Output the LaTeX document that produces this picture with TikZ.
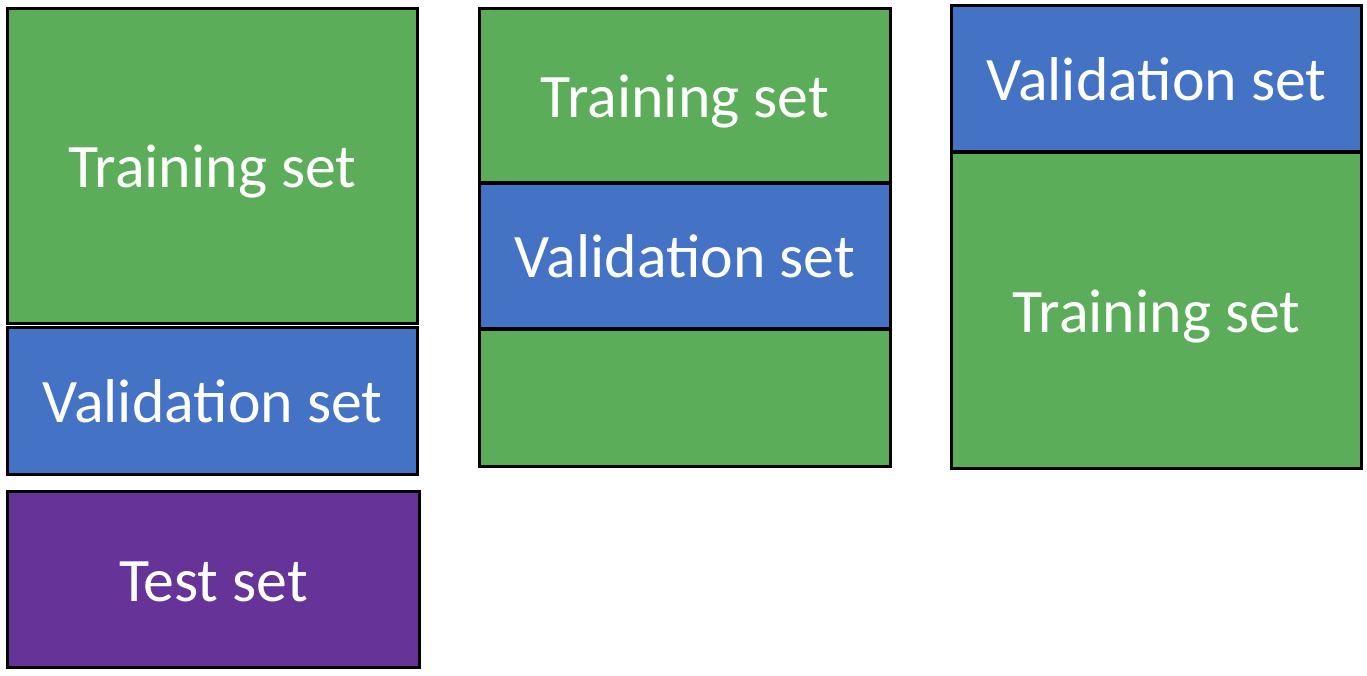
\documentclass[tikz,border=0pt]{standalone}
\usepackage{fontspec}
\setmainfont{Carlito}
\definecolor{trainGreen}{RGB}{91, 173, 90}
\definecolor{valBlue}{RGB}{68, 114, 196}
\definecolor{testPurple}{RGB}{102, 51, 153}
\usepackage{tikz}
\usetikzlibrary{positioning}

\tikzset{
  setbox/.style={draw=black,line width=1.7pt,inner sep=0pt,text=white,
    font=\fontsize{35.2}{38}\selectfont,text height=25pt,text depth=0pt,
    minimum width=8.22cm},
  trainbox/.style={setbox,fill=trainGreen},
  valbox/.style={setbox,fill=valBlue},
  testbox/.style={setbox,fill=testPurple}
}

\begin{document}
\begin{tikzpicture}[x=0.02cm,y=-0.02cm]
  \useasboundingbox (0,0) rectangle (1367,676);

  % first split: train / validation / test
  \node[trainbox,minimum height=6.32cm] (train1) at (212.5,166) {Training set};
  \node[valbox,minimum height=2.96cm] (val1) at (212.5,401) {Validation set};
  \node[testbox,minimum width=8.26cm,minimum height=3.54cm] (test1) at (213.5,579.5) {Test set};

  % second split
  \node[trainbox,minimum height=3.5cm] (train2) at (685,95.5) {Training set};
  \node[valbox,minimum height=2.92cm] (val2) at (685,256) {Validation set};
  \node[trainbox,minimum height=2.76cm] (rest2) at (685,398) {};

  % third split
  \node[valbox,minimum height=2.94cm] (val3) at (1156.5,78.5) {Validation set};
  \node[trainbox,minimum height=6.34cm] (train3) at (1156.5,310.5) {Training set};
\end{tikzpicture}
\end{document}
